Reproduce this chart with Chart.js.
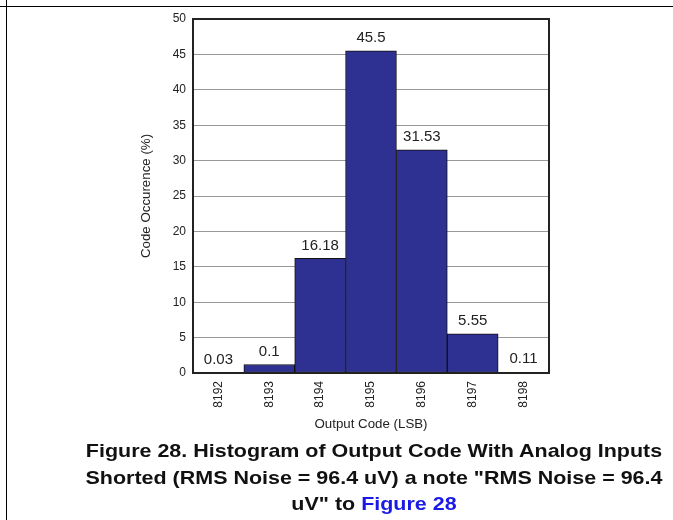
<!DOCTYPE html>
<html>
<head>
<meta charset="utf-8">
<script src="https://cdn.jsdelivr.net/npm/chart.js@4"></script>
<style>
  body { margin: 0; background: #fff; }
  #wrap { position: relative; width: 673px; height: 520px; overflow: hidden; }
  #topline { position: absolute; left: 0; top: 6px; width: 673px; height: 1px; background: #000; }
  #leftline { position: absolute; left: 6px; top: 0; width: 1px; height: 520px; background: #000; }
  #chartbox { position: absolute; left: 0; top: 0; width: 673px; height: 440px; }
  #caption {
    position: absolute; left: 74px; top: 438px; width: 600px;
    font-family: "Liberation Sans", Arial, sans-serif; font-weight: bold;
    font-size: 19px; line-height: 26.5px; text-align: center; white-space: nowrap; color: #111;
    transform: scaleX(1.13); transform-origin: 300px 0;
  }
  #caption span { color: #1a1ae6; }
</style>
</head>
<body>
<div id="wrap">
  <div id="topline"></div>
  <div id="leftline"></div>
  <div id="chartbox"><canvas id="chart"></canvas></div>
  <div id="caption">Figure 28. Histogram of Output Code With Analog Inputs<br>Shorted (RMS Noise = 96.4 uV) a note "RMS Noise = 96.4<br>uV" to <span>Figure 28</span></div>
</div>
<script>
// Kategorier och värden
const codes = ['8192', '8193', '8194', '8195', '8196', '8197', '8198'];
const occurence = [0.03, 1.2, 16.18, 45.5, 31.53, 5.55, 0.11];
const barLabels = ['0.03', '0.1', '16.18', '45.5', '31.53', '5.55', '0.11'];

const font = "'Liberation Sans', Arial, sans-serif";

// Etiketter ovanför staplarna och ram runt ritytan
const overlay = {
    id: 'overlay',
    afterDatasetsDraw(chart) {
        const ctx = chart.ctx;
        const meta = chart.getDatasetMeta(0);
        ctx.save();
        ctx.font = '15px ' + font;
        ctx.fillStyle = '#222';
        ctx.textAlign = 'center';
        ctx.textBaseline = 'middle';
        meta.data.forEach(function(bar, i) {
            ctx.fillText(barLabels[i], bar.x, bar.y - 13);
        });
        const a = chart.chartArea;
        ctx.strokeStyle = '#222';
        ctx.lineWidth = 2;
        ctx.strokeRect(a.left, a.top, a.right - a.left, a.bottom - a.top);
        ctx.restore();
    }
};

new Chart(document.getElementById('chart'), {
    type: 'bar',
    data: {
        labels: codes,
        datasets: [{
            data: occurence,
            backgroundColor: '#2e3192',
            borderColor: '#111',
            borderWidth: 1,
            borderSkipped: false,
            barPercentage: 1,
            categoryPercentage: 1
        }]
    },
    options: {
        responsive: true,
        maintainAspectRatio: false,
        animation: false,
        layout: { padding: { left: 134, right: 124, top: 19, bottom: 4 } },
        plugins: { legend: { display: false }, tooltip: { enabled: false } },
        scales: {
            x: {
                grid: { display: false, drawTicks: false },
                border: { display: false },
                ticks: { color: '#222', font: { family: font, size: 12 }, minRotation: 90, maxRotation: 90, padding: 8 },
                title: { display: true, text: 'Output Code (LSB)', color: '#222', font: { family: font, size: 13.3 }, padding: { top: 4, bottom: 4 } },
                afterFit(scale) { scale.height = 63; }
            },
            y: {
                min: 0,
                max: 50,
                ticks: { stepSize: 5, color: '#222', font: { family: font, size: 12 }, padding: 7 },
                grid: { color: '#999', lineWidth: 1, drawTicks: false },
                border: { display: false },
                title: { display: true, text: 'Code Occurence (%)', color: '#222', font: { family: font, size: 13.3 }, padding: { top: 4, bottom: 4 } },
                afterFit(scale) { scale.width = 59; }
            }
        }
    },
    plugins: [overlay]
});
</script>
</body>
</html>
